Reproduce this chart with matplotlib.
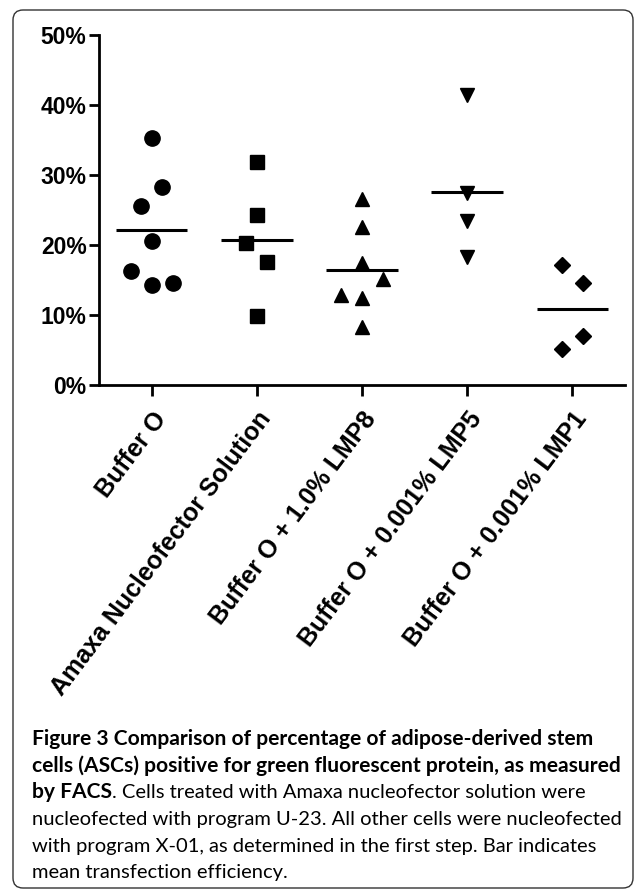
import matplotlib
matplotlib.use("Agg")
import matplotlib.pyplot as plt
from matplotlib.patches import FancyBboxPatch
import numpy as np

# groups and measured % of GFP-positive ASCs
groups = ['Buffer O', 'Amaxa Nucleofector Solution', 'Buffer O + 1.0% LMP8',
          'Buffer O + 0.001% LMP5', 'Buffer O + 0.001% LMP1']
buffer_o = [35.3, 28.3, 25.6, 20.6, 16.3, 14.3, 14.6]
amaxa = [31.9, 24.3, 20.3, 17.6, 9.8]
lmp8 = [26.6, 22.6, 17.4, 15.1, 12.9, 12.5, 8.3]
lmp5 = [41.4, 27.4, 23.4, 18.3]
lmp1 = [17.1, 14.5, 7.0, 5.1]
y_ticks = [0, 10, 20, 30, 40, 50]

# horizontal scatter of overlapping points (category units)
jitter = [[0, .1, -.1, 0, -.2, 0, .2],
          [0, 0, -.1, .1, 0],
          [0, 0, 0, .2, -.2, 0, 0],
          [0, 0, 0, 0],
          [-.1, .1, .1, -.1]]
markers = [('o', 11), ('s', 10), ('^', 10), ('v', 10), ('D', 8.5)]

plt.rcParams['font.family'] = ['Liberation Sans', 'DejaVu Sans']

fig = plt.figure(figsize=(6.35, 8.89), dpi=100)
ax = fig.add_axes([99 / 635, 1 - 385 / 889, 526 / 635, 350 / 889])

series = [buffer_o, amaxa, lmp8, lmp5, lmp1]
for i, vals in enumerate(series):
    xs = i + np.array(jitter[i])
    m, ms = markers[i]
    ax.plot(xs, vals, linestyle='none', marker=m, markersize=ms, color='black',
            clip_on=False)
    mean = np.mean(vals)
    ax.plot([i - 0.34, i + 0.34], [mean, mean], color='black', lw=2.2,
            solid_capstyle='butt')

ax.set_xlim(-0.5, 4.5)
ax.set_ylim(0, 50)
ax.set_yticks(y_ticks)
ax.set_yticklabels([f'{t}%' for t in y_ticks], fontsize=16.5, fontweight='bold')
ax.set_xticks(range(len(groups)))
ax.set_xticklabels(groups, rotation=53, ha='right', va='top',
                   rotation_mode='anchor', fontsize=18, fontweight='bold')
ax.tick_params(axis='y', length=7, width=2, pad=2)
ax.tick_params(axis='x', length=8, width=2, pad=8)
for s in ['top', 'right']:
    ax.spines[s].set_visible(False)
for s in ['left', 'bottom']:
    ax.spines[s].set_linewidth(2)

# rounded frame around figure + caption
frame = FancyBboxPatch((0.13, 0.01), 6.20, 8.78,
                       boxstyle='round,pad=0,rounding_size=0.1',
                       transform=fig.dpi_scale_trans, fill=False,
                       edgecolor='#333333', lw=1.0)
fig.patches.append(frame)

# caption: size chosen so the longest lines end near the right edge
cap_font = ['Lato', 'DejaVu Sans']
x0 = 32 / 635
x_end = 622
baselines = [745, 772, 798, 825, 852, 878]
bold_lines = ['Figure 3 Comparison of percentage of adipose-derived stem',
              'cells (ASCs) positive for green fluorescent protein, as measured']
plain_lines = ['nucleofected with program U-23. All other cells were nucleofected',
               'with program X-01, as determined in the first step. Bar indicates',
               'mean transfection efficiency.']
renderer = fig.canvas.get_renderer()


def fit_size(txt, weight):
    t = fig.text(0, 0, txt, family=cap_font, fontsize=10, fontweight=weight)
    w = t.get_window_extent(renderer).width
    t.remove()
    return 10 * (x_end - 32) / w


bold_size = fit_size(bold_lines[1], 'bold')
plain_size = fit_size(plain_lines[0], 'normal')

for txt, yb in zip(bold_lines, baselines[:2]):
    fig.text(x0, 1 - yb / 889, txt, family=cap_font, fontsize=bold_size,
             fontweight='bold', va='baseline')

t_bold = fig.text(x0, 1 - baselines[2] / 889, 'by FACS', family=cap_font,
                  fontsize=bold_size, fontweight='bold', va='baseline')
bb = t_bold.get_window_extent(renderer)
fig.text(bb.x1 / fig.bbox.width, 1 - baselines[2] / 889,
         '. Cells treated with Amaxa nucleofector solution were',
         family=cap_font, fontsize=plain_size, va='baseline')

for txt, yb in zip(plain_lines, baselines[3:]):
    fig.text(x0, 1 - yb / 889, txt, family=cap_font, fontsize=plain_size,
             va='baseline')

fig.savefig('out.png', dpi=100)
